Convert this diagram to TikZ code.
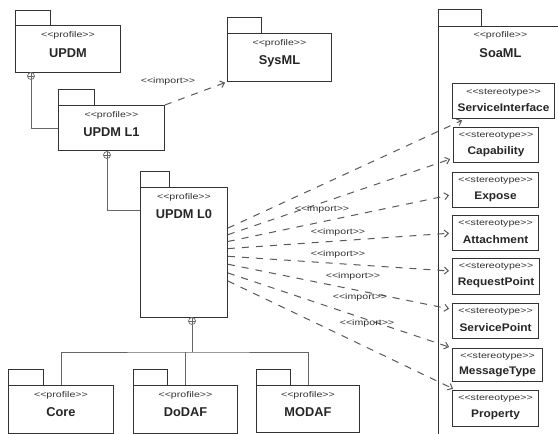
\documentclass[tikz,border=0pt]{standalone}
\usepackage{fontspec}
\setmainfont{Liberation Sans}
\newfontfamily\smallstretch[FakeStretch=1.28]{Liberation Sans}
\newfontfamily\namestretch[FakeStretch=1.08]{Liberation Sans}
\usetikzlibrary{arrows.meta}
\newcommand{\drawpkgtab}[3]{\draw[tabbox] (#1.north west) rectangle ++(#2,-#3);}
\tikzset{
 pkg/.style={draw=black!80, line width=0.9pt, fill=white, anchor=north west, inner sep=0pt},
 tabbox/.style={draw=black!80, line width=0.9pt},
 stlabel/.style={font=\smallstretch\fontsize{8.3}{9}\selectfont, text=black!80, inner sep=0pt},
 pkgname/.style={font=\bfseries\fontsize{12.8}{14}\selectfont, text=black!85, inner sep=0pt},
 stbox/.style={draw=black!80, line width=1.1pt, anchor=north west, inner sep=0pt, minimum height=35pt},
 stname/.style={font=\namestretch\bfseries\fontsize{11}{12}\selectfont, text=black!85, inner sep=0pt},
 nest/.style={draw=black!60, line width=0.8pt},
 oplus/.style={circle, draw=black!60, line width=0.7pt, inner sep=0pt, minimum size=7pt, fill=white,
   path picture={\draw[black!60, line width=0.6pt] (path picture bounding box.north) -- (path picture bounding box.south) (path picture bounding box.west) -- (path picture bounding box.east);}},
 imp/.style={draw=black!65, line width=1pt, dash pattern=on 7pt off 7pt, -{Straight Barb[length=4pt,width=7pt]}, shorten >=3pt},
}
\begin{document}
\begin{tikzpicture}[x=1pt,y=-1pt]
\fill[white] (0,0) rectangle (558,434);
\useasboundingbox (0,0) rectangle (558,434);

% packages
\node[pkg, minimum width=105pt, minimum height=47pt] (updm) at (15,25) {};
\drawpkgtab{updm}{35}{15}
\node[stlabel] (updm-st) at ([yshift=-10pt]updm.north) {<<profile>>};
\node[pkgname] (updm-nm) at ([yshift=-28pt]updm.north) {UPDM};

\node[pkg, minimum width=106pt, minimum height=45pt] (l1) at (58,105) {};
\drawpkgtab{l1}{36}{16}
\node[stlabel] (l1-st) at ([yshift=-10pt]l1.north) {<<profile>>};
\node[pkgname] (l1-nm) at ([yshift=-27pt]l1.north) {UPDM L1};

\node[pkg, minimum width=87pt, minimum height=130pt] (l0) at (140,187) {};
\drawpkgtab{l0}{29}{16}
\node[stlabel] (l0-st) at ([yshift=-10pt]l0.north) {<<profile>>};
\node[pkgname] (l0-nm) at ([yshift=-27pt]l0.north) {UPDM L0};

\node[pkg, minimum width=104pt, minimum height=48pt] (sysml) at (227,33) {};
\drawpkgtab{sysml}{34}{16}
\node[stlabel] (sysml-st) at ([yshift=-10pt]sysml.north) {<<profile>>};
\node[pkgname] (sysml-nm) at ([yshift=-28pt]sysml.north) {SysML};

\node[pkg, minimum width=105pt, minimum height=48pt] (core) at (8,385) {};
\drawpkgtab{core}{35}{16}
\node[stlabel] (core-st) at ([yshift=-10pt]core.north) {<<profile>>};
\node[pkgname] (core-nm) at ([yshift=-27pt]core.north) {Core};

\node[pkg, minimum width=104pt, minimum height=48pt] (dodaf) at (133,385) {};
\drawpkgtab{dodaf}{34}{16}
\node[stlabel] (dodaf-st) at ([yshift=-10pt]dodaf.north) {<<profile>>};
\node[pkgname] (dodaf-nm) at ([yshift=-27pt]dodaf.north) {DoDAF};

\node[pkg, minimum width=103pt, minimum height=47pt] (modaf) at (256,385) {};
\drawpkgtab{modaf}{34}{16}
\node[stlabel] (modaf-st) at ([yshift=-10pt]modaf.north) {<<profile>>};
\node[pkgname] (modaf-nm) at ([yshift=-27pt]modaf.north) {MODAF};

\node[pkg, minimum width=130pt, minimum height=420pt] (soaml) at (438,26) {};
\drawpkgtab{soaml}{43}{17}
\node[stlabel] (soaml-st) at ([xshift=-3pt,yshift=-9pt]soaml.north) {<<profile>>};
\node[pkgname] (soaml-nm) at ([xshift=-3pt,yshift=-27pt]soaml.north) {SoaML};

% stereotypes
\node[stbox, minimum width=102pt] (si) at (452,83) {};
\node[stlabel] (si-st) at ([yshift=-10pt]si.north) {<<stereotype>>};
\node[stname] (si-nm) at ([yshift=-25pt]si.north) {ServiceInterface};

\node[stbox, minimum width=85pt] (cap) at (453,127) {};
\node[stlabel] (cap-st) at ([yshift=-9pt]cap.north) {<<stereotype>>};
\node[stname] (cap-nm) at ([yshift=-25pt]cap.north) {Capability};

\node[stbox, minimum width=86pt] (exp) at (452,172) {};
\node[stlabel] (exp-st) at ([yshift=-9pt]exp.north) {<<stereotype>>};
\node[stname] (exp-nm) at ([yshift=-25pt]exp.north) {Expose};

\node[stbox, minimum width=86pt] (att) at (452,215) {};
\node[stlabel] (att-st) at ([yshift=-9pt]att.north) {<<stereotype>>};
\node[stname] (att-nm) at ([yshift=-25pt]att.north) {Attachment};

\node[stbox, minimum width=87pt, minimum height=36pt] (rp) at (452,258) {};
\node[stlabel] (rp-st) at ([yshift=-9pt]rp.north) {<<stereotype>>};
\node[stname] (rp-nm) at ([yshift=-25pt]rp.north) {RequestPoint};

\node[stbox, minimum width=86pt] (sp) at (452,303) {};
\node[stlabel] (sp-st) at ([yshift=-9pt]sp.north) {<<stereotype>>};
\node[stname] (sp-nm) at ([yshift=-25pt]sp.north) {ServicePoint};

\node[stbox, minimum width=90pt, minimum height=33pt] (mt) at (452,348) {};
\node[stlabel] (mt-st) at ([yshift=-9pt]mt.north) {<<stereotype>>};
\node[stname] (mt-nm) at ([yshift=-24pt]mt.north) {MessageType};

\node[stbox, minimum width=86pt, minimum height=36pt] (prop) at (452,390) {};
\node[stlabel] (prop-st) at ([yshift=-9pt]prop.north) {<<stereotype>>};
\node[stname] (prop-nm) at ([yshift=-25pt]prop.north) {Property};

% nesting connectors
\node[oplus] (o1) at (31,76) {};
\draw[nest] (o1.south) |- (l1.west);
\node[oplus] (o2) at (107,155) {};
\draw[nest] (o2.south) |- (l0.136.7);
\node[oplus] (o3) at (192,321) {};
\coordinate (bus) at (192,352);
\draw[nest] (o3.south) -- (bus);
\draw[nest] (core.north) |- (bus) -| (modaf.north);
\draw[nest] (dodaf.north) -- (dodaf.north |- bus);

% imports
\draw[imp, shorten >=2pt] (l1.north east) -- (sysml.south west);
\node[stlabel] (imp0) at (168,81) {<<import>>};

\draw[imp] (l0.29) -- (si.205);
\draw[imp] (l0.22) -- (cap.197);
\draw[imp] (l0.14) -- (exp.186);
\draw[imp] (l0.5) -- (att.west);
\draw[imp] (l0.-5) -- (rp.173);
\draw[imp] (l0.-15) -- (sp.165);
\draw[imp] (l0.-25) -- (mt.north west);
\draw[imp] (l0.-33) -- (prop.155);

\node[stlabel] (imp1) at (322,209) {<<import>>};
\node[stlabel] (imp2) at (338,232) {<<import>>};
\node[stlabel] (imp3) at (338,254) {<<import>>};
\node[stlabel] (imp4) at (353,276) {<<import>>};
\node[stlabel] (imp5) at (360,297) {<<import>>};
\node[stlabel] (imp6) at (367,323) {<<import>>};
\end{tikzpicture}
\end{document}
